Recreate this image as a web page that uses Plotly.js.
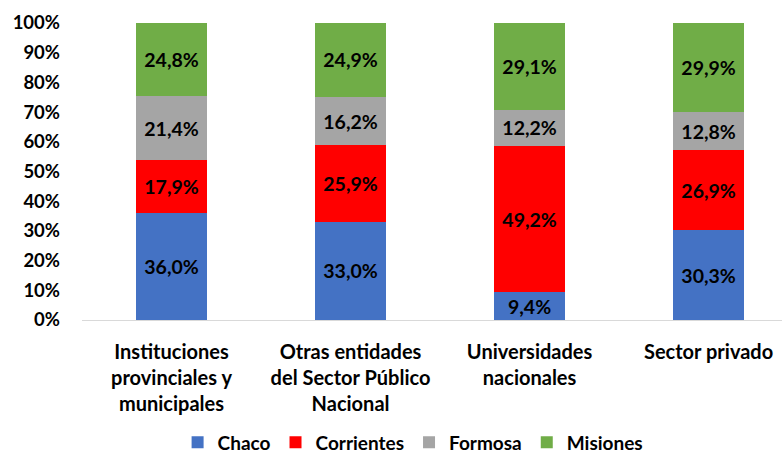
<!DOCTYPE html>
<html>
<head>
<meta charset="utf-8">
<script src="https://cdn.plot.ly/plotly-3.0.1.min.js"></script>
<style>
  body { margin: 0; background: #fff; }
  #plot-area { width: 782px; height: 456px; }
</style>
</head>
<body>
<div id="plot-area"></div>
<script>
// categories and shares
var categories = [
    "Instituciones<br>provinciales y<br>municipales",
    "Otras entidades<br>del Sector Público<br>Nacional",
    "Universidades<br>nacionales",
    "Sector privado"
];
var chaco      = [0.360, 0.330, 0.094, 0.303];
var corrientes = [0.179, 0.259, 0.492, 0.269];
var formosa    = [0.214, 0.162, 0.122, 0.128];
var misiones   = [0.248, 0.249, 0.291, 0.299];

var seriesNames  = ["Chaco", "Corrientes", "Formosa", "Misiones"];
var seriesValues = [chaco, corrientes, formosa, misiones];
var seriesColors = ["#4472C4", "#FF0000", "#A5A5A5", "#70AD47"];

var fam = "Lato, 'Open Sans', sans-serif";
function bold(sz) { return {family: fam, size: sz, color: "#000", weight: "bold"}; }

var data = [];
for (var i = 0; i < seriesNames.length; i++) {
    data.push({
        type: "bar",
        name: seriesNames[i],
        x: [0, 1, 2, 3],
        y: seriesValues[i],
        marker: {color: seriesColors[i]},
        texttemplate: "%{y:.1%}",
        textposition: "inside",
        insidetextanchor: "middle",
        textangle: 0,
        constraintext: "none",
        textfont: bold(19.5),
        hoverinfo: "skip"
    });
}

var layout = {
    barmode: "stack",
    bargap: 0.6,
    separators: ",.",
    showlegend: true,
    margin: {l: 82, r: 0, t: 23, b: 136},
    paper_bgcolor: "#fff",
    plot_bgcolor: "#fff",
    font: bold(19),
    xaxis: {
        range: [-0.5, 3.41],
        tickvals: [0, 1, 2, 3],
        ticktext: categories,
        showgrid: false,
        zeroline: false,
        showline: true,
        linecolor: "#D9D9D9",
        linewidth: 1,
        ticks: "",
        ticklabelstandoff: 14,
        tickfont: bold(20),
        fixedrange: true
    },
    yaxis: {
        range: [0, 1],
        dtick: 0.1,
        tickformat: ".0%",
        showgrid: false,
        zeroline: false,
        showline: false,
        ticks: "",
        ticklabelstandoff: 21,
        tickfont: bold(18.5),
        fixedrange: true
    },
    legend: {
        orientation: "h",
        xref: "paper",
        x: 0.473,
        xanchor: "center",
        yref: "container",
        y: 0.03,
        yanchor: "middle",
        font: bold(19),
        traceorder: "normal",
        itemwidth: 30
    }
};

Plotly.newPlot("plot-area", data, layout, {displayModeBar: false, staticPlot: true});
</script>
</body>
</html>
